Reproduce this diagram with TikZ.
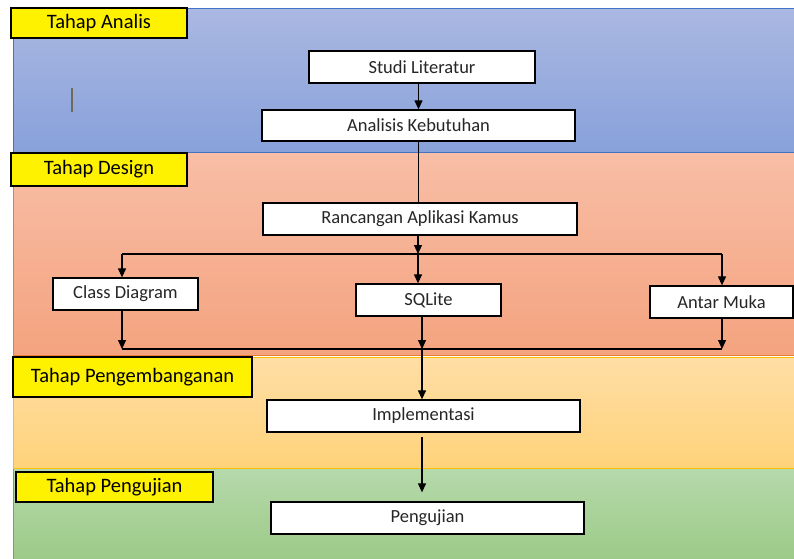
\documentclass[tikz,border=0pt]{standalone}
\usepackage{fontspec}
\setmainfont{Carlito}
\usetikzlibrary{arrows.meta}
\definecolor{blueT}{HTML}{AAB8E2}
\definecolor{blueB}{HTML}{88A1DA}
\definecolor{blueE}{HTML}{4472C4}
\definecolor{salT}{HTML}{F8BEA6}
\definecolor{salB}{HTML}{F4A37F}
\definecolor{salE}{HTML}{ED7D31}
\definecolor{orT}{HTML}{FFDEA6}
\definecolor{orB}{HTML}{FFD37A}
\definecolor{orE}{HTML}{FFC000}
\definecolor{grT}{HTML}{B6D9AB}
\definecolor{grB}{HTML}{9CCA87}
\definecolor{grE}{HTML}{70AD47}
\definecolor{strayc}{HTML}{6E6A58}
\definecolor{txt}{HTML}{262626}
\tikzset{
  stepbox/.style={draw=black, line width=1.3pt, fill=white, inner sep=0pt, text=txt,
    minimum height=32pt, font=\fontsize{18.5}{20}\selectfont},
  phase/.style={draw=black, line width=1.3pt, fill=yellow, inner sep=0pt,
    font=\fontsize{20.5}{22}\selectfont},
  arr/.style={line width=1.2pt, -{Triangle[length=9pt,width=8pt]}},
  ln/.style={line width=1.2pt},
}
\begin{document}
\begin{tikzpicture}[x=1pt,y=-1pt]
\useasboundingbox (0,0) rectangle (794,558);
% bands
\shade[top color=blueT, bottom color=blueB] (13,8) rectangle (797,152);
\draw[blueE, line width=1pt] (797,8) -- (13,8) -- (13,152) -- (797,152);
\shade[top color=salT, bottom color=salB] (13,153) rectangle (797,355);
\draw[salE, line width=0.6pt] (13,153) -- (13,355) -- (797,355);
\shade[top color=orT, bottom color=orB] (13,357) rectangle (797,468);
\draw[orE, line width=1pt] (797,357) -- (13,357) -- (13,468) -- (797,468);
\shade[top color=grT, bottom color=grB] (13,469) rectangle (797,560);
\draw[grE, line width=0.6pt] (13,469) -- (13,560);
% stray mark
\draw[strayc, line width=1.2pt] (72,88) -- (72,112);
% phase labels
\node[phase, minimum width=176pt, minimum height=30pt] (pA) at (99,23) {Tahap Analis};
\node[phase, minimum width=176pt, minimum height=33pt] (pD) at (99,169.5) {Tahap Design};
\node[phase, minimum width=239pt, minimum height=40pt] (pP) at (132.5,377) {Tahap Pengembanganan};
\node[phase, minimum width=197pt, minimum height=30pt] (pU) at (114.5,487) {Tahap Pengujian};
% steps
\node[stepbox, minimum width=226pt] (studi) at (422,67) {Studi Literatur};
\node[stepbox, minimum width=313pt, minimum height=31pt] (analisis) at (418.5,125.5) {Analisis Kebutuhan};
\node[stepbox, minimum width=314pt] (ranc) at (420,219) {Rancangan Aplikasi Kamus};
\node[stepbox, minimum width=145pt] (class) at (125.5,294) {Class Diagram};
\node[stepbox, minimum width=145pt] (sqlite) at (428.5,300) {SQLite};
\node[stepbox, minimum width=143pt] (antar) at (721.5,302) {Antar Muka};
\node[stepbox, minimum width=313pt] (impl) at (423.5,416) {Implementasi};
\node[stepbox, minimum width=313pt] (peng) at (427.5,518) {Pengujian};
% junctions
\coordinate (sL) at (122,254);
\coordinate (sM) at (418,254);
\coordinate (sR) at (722,254);
\coordinate (mL) at (122,349);
\coordinate (mM) at (422,349);
\coordinate (mR) at (722,349);
% connectors
\draw[arr] (studi.south -| analisis.north) -- (analisis.north);
\draw[ln] (analisis.south) -- (ranc.north -| analisis.south);
\draw[arr] (ranc.south -| sM) -- (sM);
\draw[ln] (sL) -- (sR);
\draw[arr] (sL) -- (class.north -| sL);
\draw[arr] (sM) -- (sqlite.north -| sM);
\draw[arr] (sR) -- (antar.north -| sR);
\draw[arr] (class.south -| mL) -- (mL);
\draw[arr] (antar.south -| mR) -- (mR);
\draw[ln] (mL) -- (mR);
\draw[arr] (sqlite.south -| mM) -- (mM);
\draw[arr] (mM) -- (impl.north -| mM);
\draw[arr, shorten <=4pt, shorten >=9pt] (impl.south -| mM) -- (peng.north -| mM);
\end{tikzpicture}
\end{document}
